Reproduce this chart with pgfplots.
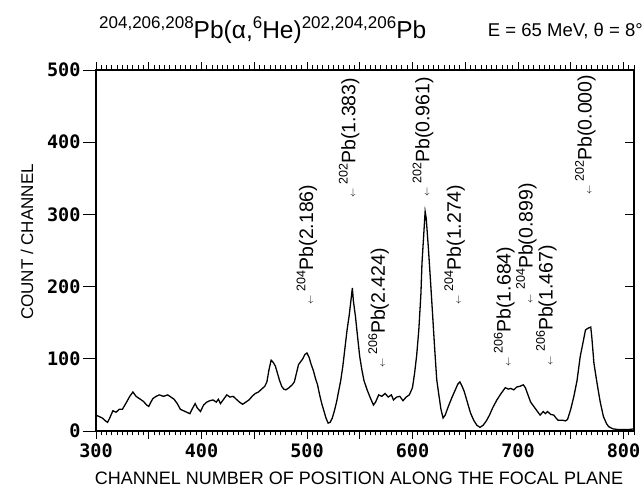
\documentclass[border=0pt]{standalone}
\usepackage{fontspec}
\setmainfont{Liberation Sans}
\newfontfamily\tickfam{DejaVu Sans Mono}
\usepackage{pgfplots}
\pgfplotsset{compat=1.18}

\newcommand\tickfont{\tickfam\bfseries\fontsize{18.5}{18.5}\selectfont}
\newcommand\labfont{\fontsize{19.5}{19.5}\selectfont}
\newcommand\sups[1]{\raisebox{0.4em}{\fontsize{12.5}{12.5}\selectfont #1}}
\newcommand\tsups[1]{\raisebox{0.42em}{\fontsize{17}{17}\selectfont #1}}
\newcommand\arr{{\fontsize{9}{9}\selectfont$\leftarrow$}\hspace{4pt}}

\pgfplotsset{frame/.style={at={(96pt,66pt)},anchor=south west,
  width=538pt,height=361pt,scale only axis,
  xmin=300,xmax=810,ymin=0,ymax=500,
  axis line style={line width=1.1pt,-},
  tick style={line width=0.9pt,black}}}

\begin{document}
\begin{tikzpicture}[x=1pt,y=1pt]
\useasboundingbox (0,0) rectangle (644,497);

\begin{axis}[frame,
  tick align=outside,
  xtick={300,350,...,800},
  xticklabels={300,,400,,500,,600,,700,,800},
  minor xtick={300,305,...,810},
  ytick=\empty,
  major tick length=8pt,minor tick length=4.5pt,
  tick label style={font=\tickfont},
  xticklabel style={yshift=-1pt},
  clip=false]
\addplot[black,line width=1.3pt] coordinates {
(300,22)(303,20)(306,18)(309,14)(311,12)(313,18)(316,28)(319,26)(322,30)(325,30)
(329,40)(332,48)(335,54)(338,48)(341,45)(345,41)(348,36)(350,34)(352,40)(354,45)
(357,48)(360,50)(364,48)(368,50)(371,47)(374,44)(377,38)(380,30)(383,28)(386,26)
(389,24)(391,30)(394,38)(396,32)(399,27)(402,36)(405,40)(408,42)(411,43)(414,40)
(416,44)(418,38)(421,44)(424,50)(427,47)(430,48)(433,44)(436,40)(439,37)(442,40)
(445,43)(448,48)(451,52)(454,54)(457,58)(460,62)(462,68)(464,85)(466,98)(468,95)
(470,90)(472,80)(474,70)(476,62)(478,58)(480,57)(483,60)(486,64)(488,68)(490,80)
(492,92)(494,96)(496,100)(498,106)(500,108)(502,102)(504,92)(506,84)(508,73)(510,64)
(512,50)(514,38)(516,28)(518,18)(520,11)(522,12)(524,18)(526,28)(528,40)(530,55)
(532,70)(534,90)(536,115)(538,140)(540,160)(542,185)(543,198)(544,180)(546,158)(548,130)
(550,103)(552,85)(554,70)(557,57)(560,46)(563,36)(565,40)(568,50)(571,48)(574,52)
(577,47)(580,50)(582,43)(585,47)(588,48)(591,42)(594,47)(597,50)(600,60)(602,80)
(604,105)(606,140)(608,190)(609,232)(611,280)(612,304)(613,295)(615,255)(617,210)(619,163)
(621,115)(623,71)(625,50)(627,30)(629,18)(631,22)(634,34)(637,45)(640,55)(643,65)
(645,68)(647,62)(649,55)(651,45)(653,35)(655,25)(658,15)(661,8)(664,5)(667,8)
(670,14)(673,22)(676,32)(680,43)(684,52)(688,60)(691,58)(693,59)(696,57)(699,61)
(702,62)(705,64)(707,60)(710,48)(712,40)(715,34)(718,28)(721,22)(724,27)(726,24)
(728,27)(731,23)(734,22)(736,18)(738,15)(742,15)(745,14)(747,16)(750,30)(753,48)
(756,70)(759,103)(762,125)(764,140)(766,142)(769,144)(770,130)(772,94)(774,75)(776,57)
(778,40)(781,20)(784,10)(786,6)(790,3)(795,2)(800,2)(805,2)(810,3)};
\tikzset{lab/.style={rotate=90,anchor=west,inner sep=0pt,font=\labfont}}
\node[lab] at (axis cs:500,175) {\arr\sups{204}Pb(2.186)};
\node[lab] at (axis cs:540,323) {\arr\sups{202}Pb(1.383)};
\node[lab] at (axis cs:568,87) {\arr\sups{206}Pb(2.424)};
\node[lab] at (axis cs:610,324) {\arr\sups{202}Pb(0.961)};
\node[lab] at (axis cs:640,175) {\arr\sups{204}Pb(1.274)};
\node[lab] at (axis cs:687,89) {\arr\sups{206}Pb(1.684)};
\node[lab] at (axis cs:708,177) {\arr\sups{204}Pb(0.899)};
\node[lab] at (axis cs:727,91) {\arr\sups{206}Pb(1.467)};
\node[lab] at (axis cs:764,327) {\arr\sups{202}Pb(0.000)};
\end{axis}

% left y ticks (outside, longer) with labels
\begin{axis}[frame,hide x axis,axis y line*=left,
  tick align=outside,major tick length=13pt,
  ytick={0,100,...,500},yticklabels={0,100,200,300,400,500},
  tick label style={font=\tickfont},yticklabel style={xshift=1pt}]
\end{axis}

% right y ticks (inside)
\begin{axis}[frame,hide x axis,axis y line*=right,
  tick align=inside,major tick length=9pt,
  ytick={100,200,300,400},yticklabels={}]
\end{axis}

\node[font=\fontsize{18}{18}\selectfont] at (359,19) {CHANNEL NUMBER OF POSITION ALONG THE FOCAL PLANE};
\node[rotate=90,font=\fontsize{17}{17}\selectfont] at (27,255) {COUNT / CHANNEL};
\node[anchor=base west,inner sep=0pt,font=\fontsize{24.5}{24.5}\selectfont] at (99,458) {\tsups{204,206,208}Pb(α,\tsups{6}He)\tsups{202,204,206}Pb};
\node[anchor=base east,inner sep=0pt,font=\fontsize{18.5}{18.5}\selectfont] at (643,460) {E = 65 MeV, θ = 8°};
\end{tikzpicture}
\end{document}
